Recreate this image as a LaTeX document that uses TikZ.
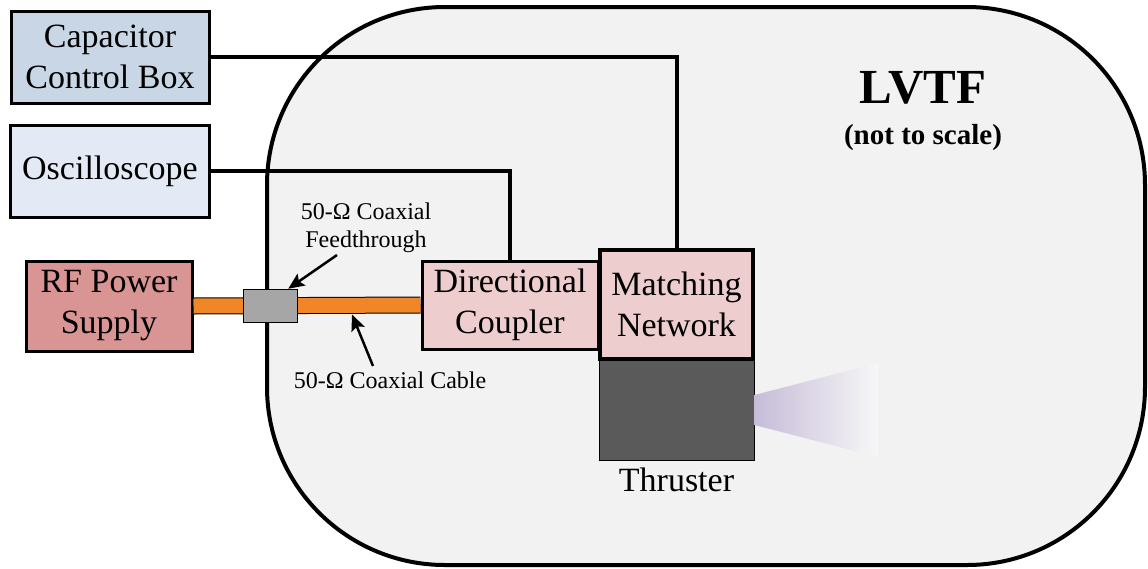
\documentclass[tikz,border=0pt]{standalone}
\usepackage{fontspec}
\setmainfont{Liberation Serif}
\usetikzlibrary{arrows.meta}
\definecolor{capfill}{HTML}{C8D6E6}
\definecolor{oscfill}{HTML}{E3EAF5}
\definecolor{rffill}{HTML}{D99593}
\definecolor{pinkfill}{HTML}{EDCDCD}
\definecolor{chamberfill}{HTML}{F2F2F2}
\definecolor{cableorange}{HTML}{F08628}
\definecolor{ftgray}{HTML}{A6A6A6}
\definecolor{thrgray}{HTML}{5A5A5A}
\definecolor{plume}{HTML}{C6BCD8}
\tikzset{
  bigtext/.style={font=\fontsize{34}{41}\selectfont, align=center},
  smalltext/.style={font=\fontsize{24}{28}\selectfont, align=center, inner sep=0},
  box/.style={draw, line width=3, rectangle, inner sep=0, bigtext},
  wire/.style={line width=4},
  cablestyle/.style={line width=1, double=cableorange, double distance=15},
  pointer/.style={line width=2.5, -{Stealth[length=16,width=14,inset=3]}},
}
\begin{document}
\begin{tikzpicture}[x=1pt,y=-1pt]
\useasboundingbox (0,0) rectangle (1148,568);
% chamber
\draw[line width=4, fill=chamberfill, rounded corners=178] (267,7) rectangle (1145,565);
% title
\node[font=\fontsize{49}{55}\selectfont\bfseries, inner sep=0] (lvtf) at (923,88) {LVTF};
\node[font=\fontsize{29}{34}\selectfont\bfseries, inner sep=0] (nts) at (923,138) {(not to scale)};
% boxes
\node[box, fill=capfill, minimum width=198, minimum height=92] (cap) at (110,57) {Capacitor\\Control Box};
\node[box, fill=oscfill, minimum width=199, minimum height=92] (osc) at (110,171) {Oscilloscope};
\node[box, fill=rffill, minimum width=166, minimum height=90] (rf) at (109,306) {RF Power\\Supply};
\node[box, fill=pinkfill, minimum width=176, minimum height=88] (dc) at (510,305) {Directional\\Coupler};
\node[draw, line width=1, fill=thrgray, minimum width=155, minimum height=100, inner sep=0] (thr) at (676.5,410) {};
\node[box, line width=4, fill=pinkfill, minimum width=153, minimum height=109] (mn) at (676.5,304.5) {Matching\\Network};
\node[bigtext, inner sep=0, anchor=north] (thrlabel) at (676.5,468) {Thruster};
% plume
\shade[left color=plume, right color=chamberfill!60!white] (thr.east |- 0,395) -- (878,363) -- (878,457) -- (thr.east |- 0,425) -- cycle;
% wires
\draw[wire] (cap.east) -| (mn.north);
\draw[wire] (osc.east) -| (dc.north);
% cable and feedthrough
\draw[cablestyle] (rf.east) -- (dc.west);
\node[draw, line width=1.5, fill=ftgray, minimum width=54, minimum height=33, inner sep=0] (ft) at (270.5,306) {};
% labels and pointers
\node[smalltext] (ftlabel) at (366,228) {50-Ω Coaxial\\Feedthrough};
\node[smalltext] (cablelabel) at (390,380) {50-Ω Coaxial Cable};
\coordinate (fttail) at (337,255);
\coordinate (cabletail) at (373,366);
\coordinate (cablehit) at (352,314.5);
\draw[pointer] (fttail) -- ([xshift=-10]ft.north east);
\draw[pointer] (cabletail) -- (cablehit);
\end{tikzpicture}
\end{document}
